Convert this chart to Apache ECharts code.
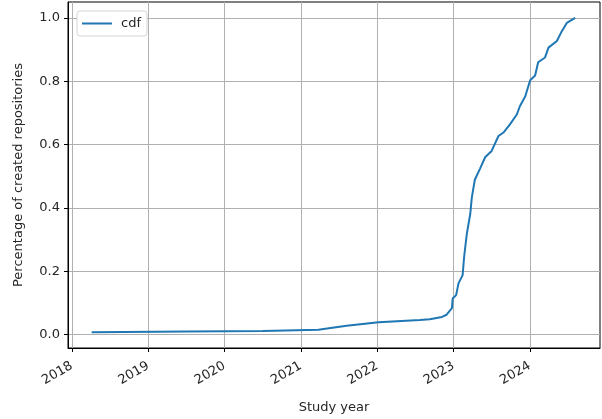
<!DOCTYPE html>
<html><head><meta charset="utf-8">
<script src="https://cdn.jsdelivr.net/npm/echarts@6/dist/echarts.min.js"></script>
<style>html,body{margin:0;padding:0;background:#fff}#c{width:602px;height:419px}</style>
</head><body><div id="c"></div>
<script>
const years = [2018.26, 2019.5, 2020.5, 2021.23, 2021.25, 2021.6, 2022.02, 2022.56, 2022.69, 2022.85, 2022.91, 2022.98, 2022.99, 2023.035, 2023.066, 2023.12, 2023.14, 2023.175, 2023.22, 2023.24, 2023.28, 2023.35, 2023.415, 2023.50, 2023.59, 2023.655, 2023.74, 2023.83, 2023.87, 2023.94, 2024.005, 2024.07, 2024.11, 2024.20, 2024.245, 2024.355, 2024.42, 2024.485, 2024.595];
const cdf = [0.008, 0.010, 0.012, 0.0155, 0.020, 0.028, 0.039, 0.046, 0.049, 0.056, 0.063, 0.084, 0.114, 0.125, 0.162, 0.188, 0.246, 0.318, 0.381, 0.432, 0.489, 0.525, 0.560, 0.580, 0.627, 0.638, 0.664, 0.695, 0.721, 0.752, 0.803, 0.818, 0.860, 0.875, 0.906, 0.927, 0.958, 0.984, 1.0];
const xTicks = [2018, 2019, 2020, 2021, 2022, 2023, 2024];
const yTicks = [0.0, 0.2, 0.4, 0.6, 0.8, 1.0];
const seriesName = 'cdf';

const font = 'DejaVu Sans';
const chart = echarts.init(document.getElementById('c'), null, {renderer: 'canvas'});
chart.setOption({
  animation: false,
  textStyle: {fontFamily: font},
  grid: {left: 68, right: 2, top: 2, bottom: 67, containLabel: false, show: true, borderColor: '#000', borderWidth: 1, backgroundColor: 'transparent'},
  legend: {
    data: [{name: seriesName, icon: 'rect'}],
    left: 77, top: 11, orient: 'vertical',
    itemWidth: 30, itemHeight: 2, itemGap: 6,
    padding: [6, 6, 6, 5],
    backgroundColor: '#fff', borderColor: '#d5d5d5', borderWidth: 1, borderRadius: 3,
    textStyle: {fontFamily: font, fontSize: 13, color: '#262626', padding: [0, 0, 0, 4]}
  },
  xAxis: {
    type: 'value', min: 2017.95, max: 2024.92,
    name: 'Study year', nameLocation: 'middle', nameGap: 53,
    nameTextStyle: {fontFamily: font, fontSize: 13, color: '#262626'},
    axisLine: {onZero: false, lineStyle: {color: '#000', width: 1}},
    axisTick: {show: true, length: 4, lineStyle: {color: '#000'}, customValues: xTicks},
    axisLabel: {customValues: xTicks, rotate: 30, fontFamily: font, fontSize: 13, color: '#262626', margin: 17, formatter: v => String(Math.round(v))},
    splitLine: {show: true, lineStyle: {color: '#b0b0b0', width: 1}, customValues: xTicks}
  },
  yAxis: {
    type: 'value', min: -0.042, max: 1.05,
    name: 'Percentage of created repositories', nameLocation: 'middle', nameGap: 43,
    nameTextStyle: {fontFamily: font, fontSize: 13, color: '#262626'},
    axisLine: {show: true, onZero: false, lineStyle: {color: '#000', width: 1}},
    axisTick: {show: true, length: 4, lineStyle: {color: '#000'}, customValues: yTicks},
    axisLabel: {customValues: yTicks, fontFamily: font, fontSize: 13, color: '#262626', margin: 8, formatter: v => v.toFixed(1)},
    splitLine: {show: true, lineStyle: {color: '#b0b0b0', width: 1}, customValues: yTicks}
  },
  series: [{
    name: seriesName, type: 'line', symbol: 'none', showSymbol: false,
    data: years.map((y, i) => [y, cdf[i]]),
    lineStyle: {color: '#1f77b4', width: 2}, itemStyle: {color: '#1f77b4'}
  }]
});
</script></body></html>
